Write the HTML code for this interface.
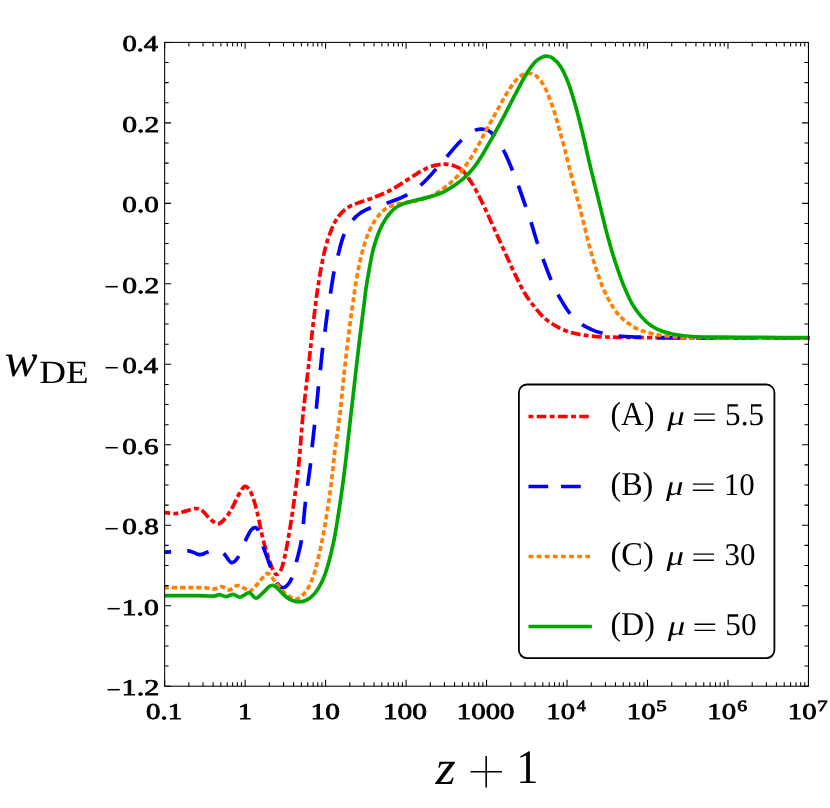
<!DOCTYPE html>
<html><head><meta charset="utf-8"><title>w_DE vs z+1</title>
<style>html,body{margin:0;padding:0;background:#fff}body{width:830px;height:808px;overflow:hidden}svg{display:block}text{font-family:"Liberation Serif",serif;fill:#000;text-rendering:geometricPrecision}.b{font-weight:normal;stroke:#000;stroke-width:0.75px;stroke-linejoin:round}.i{font-style:italic}</style></head><body>
<svg width="830" height="808" viewBox="0 0 830 808" style="will-change:transform">
<rect x="0" y="0" width="830" height="808" fill="#fff"/>
<defs><clipPath id="cp"><rect x="164.15" y="41.90" width="645.80" height="644.80"/></clipPath></defs>
<g fill="none" stroke-width="3.70" stroke-linejoin="round" clip-path="url(#cp)">
<path d="M160.00 512.30 C160.82 512.33 162.32 512.30 164.95 512.50 C167.58 512.70 172.34 513.73 175.80 513.50 C179.26 513.27 182.40 511.93 185.70 511.10 C189.00 510.27 192.78 508.50 195.60 508.50 C198.42 508.50 200.28 509.45 202.60 511.10 C204.92 512.75 207.03 516.28 209.50 518.40 C211.97 520.52 215.08 523.47 217.40 523.80 C219.72 524.13 221.08 522.78 223.40 520.40 C225.72 518.02 228.67 513.95 231.30 509.50 C233.93 505.05 236.90 497.57 239.20 493.70 C241.50 489.83 243.12 486.47 245.10 486.30 C247.08 486.13 249.12 488.50 251.10 492.70 C253.08 496.90 255.02 503.75 257.00 511.50 C258.98 519.25 261.02 531.28 263.00 539.20 C264.98 547.12 267.25 553.88 268.90 559.00 C270.55 564.12 271.58 567.32 272.90 569.90 C274.22 572.48 275.32 574.83 276.80 574.50 C278.28 574.17 280.15 572.47 281.80 567.90 C283.45 563.33 285.05 555.52 286.70 547.10 C288.35 538.68 290.22 526.97 291.70 517.40 C293.18 507.83 294.33 499.43 295.60 489.70 C296.87 479.97 298.13 470.82 299.30 459.00 C300.47 447.18 301.50 430.45 302.60 418.80 C303.70 407.15 304.75 399.33 305.90 389.10 C307.05 378.87 308.40 367.30 309.50 357.40 C310.60 347.50 311.50 338.43 312.50 329.70 C313.50 320.97 314.63 311.85 315.50 305.00 C316.37 298.15 316.73 294.97 317.70 288.60 C318.67 282.23 319.98 273.73 321.30 266.80 C322.62 259.87 323.88 253.27 325.60 247.00 C327.32 240.73 329.45 234.32 331.60 229.20 C333.75 224.08 335.87 219.87 338.50 216.30 C341.13 212.73 343.93 210.10 347.40 207.80 C350.87 205.50 354.68 204.28 359.30 202.50 C363.92 200.72 370.15 199.02 375.10 197.10 C380.05 195.18 384.37 193.40 389.00 191.00 C393.63 188.60 398.28 185.57 402.90 182.70 C407.52 179.83 412.42 176.35 416.70 173.80 C420.98 171.25 425.07 168.90 428.60 167.40 C432.13 165.90 435.18 165.33 437.90 164.80 C440.62 164.27 442.25 164.05 444.90 164.20 C447.55 164.35 451.00 164.78 453.80 165.70 C456.60 166.62 459.20 167.55 461.70 169.70 C464.20 171.85 466.47 175.27 468.80 178.60 C471.13 181.93 473.05 184.83 475.70 189.70 C478.35 194.57 481.55 201.15 484.70 207.80 C487.85 214.45 491.30 222.33 494.60 229.60 C497.90 236.87 501.18 244.13 504.50 251.40 C507.82 258.67 511.15 266.27 514.50 273.20 C517.85 280.13 521.15 287.23 524.60 293.00 C528.05 298.77 531.78 303.52 535.20 307.80 C538.62 312.08 541.47 315.57 545.10 318.70 C548.73 321.83 552.70 324.28 557.00 326.60 C561.30 328.92 565.95 331.12 570.90 332.60 C575.85 334.08 581.42 334.78 586.70 335.50 C591.98 336.22 597.32 336.60 602.60 336.90 C607.88 337.20 609.95 337.17 618.40 337.30 C626.85 337.43 639.70 337.60 653.30 337.70 C666.90 337.80 682.22 337.87 700.00 337.90 C717.78 337.93 741.33 337.90 760.00 337.90 C778.67 337.90 803.33 337.90 812.00 337.90" stroke="#ff0000" stroke-dasharray="5.0 3.15 9.92 3.15" stroke-dashoffset="7.9"/>
<path d="M160.00 552.10 C160.82 552.10 161.65 552.17 164.95 552.10 C168.25 552.03 175.68 551.87 179.80 551.70 C183.93 551.53 186.40 550.60 189.70 551.10 C193.00 551.60 196.63 554.53 199.60 554.70 C202.57 554.87 204.93 552.88 207.50 552.10 C210.07 551.32 212.35 549.83 215.00 550.00 C217.65 550.17 220.68 551.00 223.40 553.10 C226.12 555.20 228.83 561.95 231.30 562.60 C233.77 563.25 235.90 560.57 238.20 557.00 C240.50 553.43 242.95 545.70 245.10 541.20 C247.25 536.70 249.45 532.27 251.10 530.00 C252.75 527.73 253.85 527.60 255.00 527.60 C256.15 527.60 256.67 526.92 258.00 530.00 C259.33 533.08 261.50 541.60 263.00 546.10 C264.50 550.60 265.68 553.37 267.00 557.00 C268.32 560.63 269.27 563.60 270.90 567.90 C272.53 572.20 274.82 579.50 276.80 582.80 C278.78 586.10 280.98 587.37 282.80 587.70 C284.62 588.03 286.22 586.38 287.70 584.80 C289.18 583.22 290.22 582.17 291.70 578.20 C293.18 574.23 294.95 567.50 296.60 561.00 C298.25 554.50 300.12 549.10 301.60 539.20 C303.08 529.30 304.02 514.13 305.50 501.60 C306.98 489.07 309.40 473.12 310.50 464.00 C311.60 454.88 311.43 453.28 312.10 446.90 C312.77 440.52 313.78 432.20 314.50 425.70 C315.22 419.20 315.75 414.33 316.40 407.90 C317.05 401.47 317.73 393.47 318.40 387.10 C319.07 380.73 319.70 376.13 320.40 369.70 C321.10 363.27 321.83 354.90 322.60 348.50 C323.37 342.10 324.15 337.73 325.00 331.30 C325.85 324.87 326.77 316.35 327.70 309.90 C328.63 303.45 329.55 298.95 330.60 292.60 C331.65 286.25 332.75 278.07 334.00 271.80 C335.25 265.53 336.45 261.12 338.10 255.00 C339.75 248.88 341.35 241.05 343.90 235.10 C346.45 229.15 350.50 223.08 353.40 219.30 C356.30 215.52 358.50 214.28 361.30 212.40 C364.10 210.52 365.92 209.55 370.20 208.00 C374.48 206.45 381.22 205.12 387.00 203.10 C392.78 201.08 399.28 198.88 404.90 195.90 C410.52 192.92 415.60 189.55 420.70 185.20 C425.80 180.85 431.15 174.53 435.50 169.80 C439.85 165.07 442.60 161.60 446.80 156.80 C451.00 152.00 456.07 145.35 460.70 141.00 C465.33 136.65 471.13 132.68 474.60 130.70 C478.07 128.72 479.20 129.10 481.50 129.10 C483.80 129.10 486.42 129.72 488.40 130.70 C490.38 131.68 490.92 131.80 493.40 135.00 C495.88 138.20 500.17 144.12 503.30 149.90 C506.43 155.68 509.55 163.35 512.20 169.70 C514.85 176.05 517.02 182.05 519.20 188.00 C521.38 193.95 523.35 199.78 525.30 205.40 C527.25 211.02 528.92 215.52 530.90 221.70 C532.88 227.88 535.15 236.23 537.20 242.50 C539.25 248.77 540.95 253.20 543.20 259.30 C545.45 265.40 548.23 273.22 550.70 279.10 C553.17 284.98 554.87 288.98 558.00 294.60 C561.13 300.22 565.53 307.85 569.50 312.80 C573.47 317.75 578.10 321.50 581.80 324.30 C585.50 327.10 588.40 328.15 591.70 329.60 C595.00 331.05 597.15 331.93 601.60 333.00 C606.05 334.07 612.03 335.30 618.40 336.00 C624.77 336.70 633.35 336.93 639.80 337.20 C646.25 337.47 647.07 337.48 657.10 337.60 C667.13 337.72 682.85 337.85 700.00 337.90 C717.15 337.95 741.33 337.90 760.00 337.90 C778.67 337.90 803.33 337.90 812.00 337.90" stroke="#0000ff" stroke-dasharray="22.5 16.2" stroke-dashoffset="11.4"/>
<path d="M160.00 587.70 C160.82 587.70 159.95 587.70 164.90 587.70 C169.85 587.70 183.85 587.70 189.70 587.70 C195.55 587.70 197.08 587.65 200.00 587.70 C202.92 587.75 204.78 587.80 207.20 588.00 C209.62 588.20 212.08 589.12 214.50 588.90 C216.92 588.68 219.20 586.53 221.70 586.70 C224.20 586.87 226.90 590.10 229.50 589.90 C232.10 589.70 234.78 585.77 237.30 585.50 C239.82 585.23 242.58 587.28 244.60 588.30 C246.62 589.32 247.80 591.70 249.40 591.60 C251.00 591.50 252.40 589.55 254.20 587.70 C256.00 585.85 258.28 582.70 260.20 580.50 C262.12 578.30 264.38 575.67 265.70 574.50 C267.02 573.33 267.20 573.20 268.10 573.50 C269.00 573.80 270.00 575.03 271.10 576.30 C272.20 577.57 273.50 579.50 274.70 581.10 C275.90 582.70 276.70 584.00 278.30 585.90 C279.90 587.80 282.27 590.62 284.30 592.50 C286.33 594.38 288.55 596.07 290.50 597.20 C292.45 598.33 294.10 599.53 296.00 599.30 C297.90 599.07 299.92 597.62 301.90 595.80 C303.88 593.98 306.17 591.23 307.90 588.40 C309.63 585.57 311.07 581.90 312.30 578.80 C313.53 575.70 314.30 573.28 315.30 569.80 C316.30 566.32 317.30 562.10 318.30 557.90 C319.30 553.70 320.42 548.80 321.30 544.60 C322.18 540.40 322.83 536.92 323.60 532.70 C324.37 528.48 325.18 523.55 325.90 519.30 C326.62 515.05 327.28 511.13 327.90 507.20 C328.52 503.27 329.07 499.48 329.60 495.70 C330.13 491.92 330.63 488.22 331.10 484.50 C331.57 480.78 331.98 477.10 332.40 473.40 C332.82 469.70 333.20 466.02 333.60 462.30 C334.00 458.58 334.32 454.90 334.80 451.10 C335.28 447.30 335.62 445.87 336.50 439.50 C337.38 433.13 339.00 422.28 340.10 412.90 C341.20 403.52 342.05 393.10 343.10 383.20 C344.15 373.30 345.25 363.40 346.40 353.50 C347.55 343.60 348.95 331.88 350.00 323.80 C351.05 315.72 351.82 311.20 352.70 305.00 C353.58 298.80 354.22 293.28 355.30 286.60 C356.38 279.92 357.72 271.83 359.20 264.90 C360.68 257.97 362.38 250.95 364.20 245.00 C366.02 239.05 367.80 233.98 370.10 229.20 C372.40 224.42 375.18 219.83 378.00 216.30 C380.82 212.77 383.52 210.07 387.00 208.00 C390.48 205.93 394.27 205.05 398.90 203.90 C403.53 202.75 409.85 202.23 414.80 201.10 C419.75 199.97 425.08 198.37 428.60 197.10 C432.12 195.83 432.20 195.92 435.90 193.50 C439.60 191.08 446.20 186.73 450.80 182.60 C455.40 178.47 459.33 174.15 463.50 168.70 C467.67 163.25 472.10 156.17 475.80 149.90 C479.50 143.63 482.40 137.20 485.70 131.10 C489.00 125.00 492.38 119.08 495.60 113.30 C498.82 107.52 501.93 101.52 505.00 96.40 C508.07 91.28 511.32 86.07 514.00 82.60 C516.68 79.13 518.60 77.15 521.10 75.60 C523.60 74.05 526.37 73.13 529.00 73.30 C531.63 73.47 534.25 74.23 536.90 76.60 C539.55 78.97 542.25 82.38 544.90 87.50 C547.55 92.62 550.50 100.70 552.80 107.30 C555.10 113.90 556.72 120.17 558.70 127.10 C560.68 134.03 562.72 141.30 564.70 148.90 C566.68 156.50 568.75 165.35 570.60 172.70 C572.45 180.05 574.27 187.15 575.80 193.00 C577.33 198.85 578.30 202.03 579.80 207.80 C581.30 213.57 583.15 221.00 584.80 227.60 C586.45 234.20 587.90 240.80 589.70 247.40 C591.50 254.00 593.45 260.60 595.60 267.20 C597.75 273.80 600.12 281.05 602.60 287.00 C605.08 292.95 607.93 298.40 610.50 302.90 C613.07 307.40 615.37 310.83 618.00 314.00 C620.63 317.17 623.00 319.38 626.30 321.90 C629.60 324.42 633.63 327.17 637.80 329.10 C641.97 331.03 646.48 332.35 651.30 333.50 C656.12 334.65 660.92 335.35 666.70 336.00 C672.48 336.65 677.12 337.10 686.00 337.40 C694.88 337.70 707.67 337.72 720.00 337.80 C732.33 337.88 744.67 337.88 760.00 337.90 C775.33 337.92 803.33 337.90 812.00 337.90" stroke="#ff8000" stroke-dasharray="5.2 2.9" stroke-dashoffset="4.3"/>
<path d="M160.00 595.60 C160.82 595.60 158.30 595.60 164.90 595.60 C171.50 595.60 191.50 595.50 199.60 595.60 C207.70 595.70 210.20 596.35 213.50 596.20 C216.80 596.05 217.27 594.63 219.40 594.70 C221.53 594.77 223.98 596.67 226.30 596.60 C228.62 596.53 230.98 594.20 233.30 594.30 C235.62 594.40 237.57 597.47 240.20 597.20 C242.83 596.93 246.47 592.53 249.10 592.70 C251.73 592.87 253.68 598.20 256.00 598.20 C258.32 598.20 260.85 594.62 263.00 592.70 C265.15 590.78 267.25 587.93 268.90 586.70 C270.55 585.47 271.58 585.13 272.90 585.30 C274.22 585.47 275.05 586.18 276.80 587.70 C278.55 589.22 281.07 592.37 283.40 594.40 C285.73 596.43 288.20 598.65 290.80 599.90 C293.40 601.15 296.28 601.90 299.00 601.90 C301.72 601.90 304.50 601.28 307.10 599.90 C309.70 598.52 312.37 596.13 314.60 593.60 C316.83 591.07 318.77 587.92 320.50 584.70 C322.23 581.48 323.63 578.02 325.00 574.30 C326.37 570.58 327.58 566.37 328.70 562.40 C329.82 558.43 330.77 554.47 331.70 550.50 C332.63 546.53 333.52 542.57 334.30 538.60 C335.08 534.63 335.73 530.65 336.40 526.70 C337.07 522.75 337.68 518.85 338.30 514.90 C338.92 510.95 339.53 506.82 340.10 503.00 C340.67 499.18 341.18 495.67 341.70 492.00 C342.22 488.33 342.72 484.67 343.20 481.00 C343.68 477.33 344.15 473.60 344.60 470.00 C345.05 466.40 345.37 463.97 345.90 459.40 C346.43 454.83 347.08 449.03 347.80 442.60 C348.52 436.17 349.30 428.73 350.20 420.80 C351.10 412.87 352.22 403.58 353.20 395.00 C354.18 386.42 355.12 377.87 356.10 369.30 C357.08 360.73 358.10 351.85 359.10 343.60 C360.10 335.35 361.27 326.40 362.10 319.80 C362.93 313.20 363.45 309.20 364.10 304.00 C364.75 298.80 365.13 294.47 366.00 288.60 C366.87 282.73 368.08 275.40 369.30 268.80 C370.52 262.20 371.65 255.27 373.30 249.00 C374.95 242.73 377.07 236.32 379.20 231.20 C381.33 226.08 383.70 221.93 386.10 218.30 C388.50 214.67 390.80 211.80 393.60 209.40 C396.40 207.00 399.37 205.38 402.90 203.90 C406.43 202.42 410.52 201.63 414.80 200.50 C419.08 199.37 424.08 198.40 428.60 197.10 C433.12 195.80 438.33 194.18 441.90 192.70 C445.47 191.22 447.57 189.67 450.00 188.20 C452.43 186.73 454.32 185.45 456.50 183.90 C458.68 182.35 460.97 180.77 463.10 178.90 C465.23 177.03 467.23 174.97 469.30 172.70 C471.37 170.43 473.43 168.08 475.50 165.30 C477.57 162.52 479.65 159.30 481.70 156.00 C483.75 152.70 485.85 148.90 487.80 145.50 C489.75 142.10 490.78 140.32 493.40 135.60 C496.02 130.88 499.95 123.90 503.50 117.20 C507.05 110.50 510.97 102.48 514.70 95.40 C518.43 88.32 522.45 80.30 525.90 74.70 C529.35 69.10 532.57 64.78 535.40 61.80 C538.23 58.82 541.00 57.73 542.90 56.80 C544.80 55.87 545.15 55.97 546.80 56.20 C548.45 56.43 550.48 56.45 552.80 58.20 C555.12 59.95 558.07 62.47 560.70 66.70 C563.33 70.93 565.97 76.50 568.60 83.60 C571.23 90.70 574.02 100.40 576.50 109.30 C578.98 118.20 581.27 127.75 583.50 137.00 C585.73 146.25 587.80 155.97 589.90 164.80 C592.00 173.63 594.25 182.50 596.10 190.00 C597.95 197.50 599.37 203.20 601.00 209.80 C602.63 216.40 604.33 223.57 605.90 229.60 C607.47 235.63 608.88 240.73 610.40 246.00 C611.92 251.27 613.00 255.13 615.00 261.20 C617.00 267.27 619.57 275.33 622.40 282.40 C625.23 289.47 628.78 297.82 632.00 303.60 C635.22 309.38 638.48 313.40 641.70 317.10 C644.92 320.80 647.77 323.38 651.30 325.80 C654.83 328.22 658.72 330.10 662.90 331.60 C667.08 333.10 671.58 333.98 676.40 334.80 C681.22 335.62 685.38 336.12 691.80 336.50 C698.22 336.88 706.87 336.97 714.90 337.10 C722.93 337.23 729.15 337.22 740.00 337.30 C750.85 337.38 768.00 337.53 780.00 337.60 C792.00 337.67 806.67 337.68 812.00 337.70" stroke="#00a600"/>
</g>
<g stroke="#000" stroke-width="1.05" fill="none">
<rect x="164.65" y="42.40" width="643.80" height="643.80"/>
<path d="M164.65 686.20 v-6.40 M164.65 42.40 v6.40 M188.88 686.20 v-4.00 M188.88 42.40 v4.00 M203.05 686.20 v-4.00 M203.05 42.40 v4.00 M213.10 686.20 v-4.00 M213.10 42.40 v4.00 M220.90 686.20 v-4.00 M220.90 42.40 v4.00 M227.27 686.20 v-4.00 M227.27 42.40 v4.00 M232.66 686.20 v-4.00 M232.66 42.40 v4.00 M237.33 686.20 v-4.00 M237.33 42.40 v4.00 M241.44 686.20 v-4.00 M241.44 42.40 v4.00 M245.12 686.20 v-6.40 M245.12 42.40 v6.40 M269.35 686.20 v-4.00 M269.35 42.40 v4.00 M283.52 686.20 v-4.00 M283.52 42.40 v4.00 M293.58 686.20 v-4.00 M293.58 42.40 v4.00 M301.37 686.20 v-4.00 M301.37 42.40 v4.00 M307.75 686.20 v-4.00 M307.75 42.40 v4.00 M313.13 686.20 v-4.00 M313.13 42.40 v4.00 M317.80 686.20 v-4.00 M317.80 42.40 v4.00 M321.92 686.20 v-4.00 M321.92 42.40 v4.00 M325.60 686.20 v-6.40 M325.60 42.40 v6.40 M349.83 686.20 v-4.00 M349.83 42.40 v4.00 M364.00 686.20 v-4.00 M364.00 42.40 v4.00 M374.05 686.20 v-4.00 M374.05 42.40 v4.00 M381.85 686.20 v-4.00 M381.85 42.40 v4.00 M388.22 686.20 v-4.00 M388.22 42.40 v4.00 M393.61 686.20 v-4.00 M393.61 42.40 v4.00 M398.28 686.20 v-4.00 M398.28 42.40 v4.00 M402.39 686.20 v-4.00 M402.39 42.40 v4.00 M406.08 686.20 v-6.40 M406.08 42.40 v6.40 M430.30 686.20 v-4.00 M430.30 42.40 v4.00 M444.47 686.20 v-4.00 M444.47 42.40 v4.00 M454.53 686.20 v-4.00 M454.53 42.40 v4.00 M462.32 686.20 v-4.00 M462.32 42.40 v4.00 M468.70 686.20 v-4.00 M468.70 42.40 v4.00 M474.08 686.20 v-4.00 M474.08 42.40 v4.00 M478.75 686.20 v-4.00 M478.75 42.40 v4.00 M482.87 686.20 v-4.00 M482.87 42.40 v4.00 M486.55 686.20 v-6.40 M486.55 42.40 v6.40 M510.78 686.20 v-4.00 M510.78 42.40 v4.00 M524.95 686.20 v-4.00 M524.95 42.40 v4.00 M535.00 686.20 v-4.00 M535.00 42.40 v4.00 M542.80 686.20 v-4.00 M542.80 42.40 v4.00 M549.17 686.20 v-4.00 M549.17 42.40 v4.00 M554.56 686.20 v-4.00 M554.56 42.40 v4.00 M559.23 686.20 v-4.00 M559.23 42.40 v4.00 M563.34 686.20 v-4.00 M563.34 42.40 v4.00 M567.03 686.20 v-6.40 M567.03 42.40 v6.40 M591.25 686.20 v-4.00 M591.25 42.40 v4.00 M605.42 686.20 v-4.00 M605.42 42.40 v4.00 M615.48 686.20 v-4.00 M615.48 42.40 v4.00 M623.27 686.20 v-4.00 M623.27 42.40 v4.00 M629.65 686.20 v-4.00 M629.65 42.40 v4.00 M635.03 686.20 v-4.00 M635.03 42.40 v4.00 M639.70 686.20 v-4.00 M639.70 42.40 v4.00 M643.82 686.20 v-4.00 M643.82 42.40 v4.00 M647.50 686.20 v-6.40 M647.50 42.40 v6.40 M671.73 686.20 v-4.00 M671.73 42.40 v4.00 M685.90 686.20 v-4.00 M685.90 42.40 v4.00 M695.95 686.20 v-4.00 M695.95 42.40 v4.00 M703.75 686.20 v-4.00 M703.75 42.40 v4.00 M710.12 686.20 v-4.00 M710.12 42.40 v4.00 M715.51 686.20 v-4.00 M715.51 42.40 v4.00 M720.18 686.20 v-4.00 M720.18 42.40 v4.00 M724.29 686.20 v-4.00 M724.29 42.40 v4.00 M727.98 686.20 v-6.40 M727.98 42.40 v6.40 M752.20 686.20 v-4.00 M752.20 42.40 v4.00 M766.37 686.20 v-4.00 M766.37 42.40 v4.00 M776.43 686.20 v-4.00 M776.43 42.40 v4.00 M784.22 686.20 v-4.00 M784.22 42.40 v4.00 M790.60 686.20 v-4.00 M790.60 42.40 v4.00 M795.98 686.20 v-4.00 M795.98 42.40 v4.00 M800.65 686.20 v-4.00 M800.65 42.40 v4.00 M804.77 686.20 v-4.00 M804.77 42.40 v4.00 M808.45 686.20 v-6.40 M808.45 42.40 v6.40 M164.65 42.40 h6.40 M808.45 42.40 h-6.40 M164.65 62.52 h4.00 M808.45 62.52 h-4.00 M164.65 82.64 h4.00 M808.45 82.64 h-4.00 M164.65 102.76 h4.00 M808.45 102.76 h-4.00 M164.65 122.88 h6.40 M808.45 122.88 h-6.40 M164.65 142.99 h4.00 M808.45 142.99 h-4.00 M164.65 163.11 h4.00 M808.45 163.11 h-4.00 M164.65 183.23 h4.00 M808.45 183.23 h-4.00 M164.65 203.35 h6.40 M808.45 203.35 h-6.40 M164.65 223.47 h4.00 M808.45 223.47 h-4.00 M164.65 243.59 h4.00 M808.45 243.59 h-4.00 M164.65 263.71 h4.00 M808.45 263.71 h-4.00 M164.65 283.83 h6.40 M808.45 283.83 h-6.40 M164.65 303.94 h4.00 M808.45 303.94 h-4.00 M164.65 324.06 h4.00 M808.45 324.06 h-4.00 M164.65 344.18 h4.00 M808.45 344.18 h-4.00 M164.65 364.30 h6.40 M808.45 364.30 h-6.40 M164.65 384.42 h4.00 M808.45 384.42 h-4.00 M164.65 404.54 h4.00 M808.45 404.54 h-4.00 M164.65 424.66 h4.00 M808.45 424.66 h-4.00 M164.65 444.77 h6.40 M808.45 444.77 h-6.40 M164.65 464.89 h4.00 M808.45 464.89 h-4.00 M164.65 485.01 h4.00 M808.45 485.01 h-4.00 M164.65 505.13 h4.00 M808.45 505.13 h-4.00 M164.65 525.25 h6.40 M808.45 525.25 h-6.40 M164.65 545.37 h4.00 M808.45 545.37 h-4.00 M164.65 565.49 h4.00 M808.45 565.49 h-4.00 M164.65 585.61 h4.00 M808.45 585.61 h-4.00 M164.65 605.73 h6.40 M808.45 605.73 h-6.40 M164.65 625.84 h4.00 M808.45 625.84 h-4.00 M164.65 645.96 h4.00 M808.45 645.96 h-4.00 M164.65 666.08 h4.00 M808.45 666.08 h-4.00 M164.65 686.20 h6.40 M808.45 686.20 h-6.40"/>
</g>
<text x="122.41" y="51.20" font-size="22.60" class="b" textLength="35.65" lengthAdjust="spacingAndGlyphs">0.4</text>
<text x="122.37" y="131.68" font-size="22.60" class="b" textLength="36.88" lengthAdjust="spacingAndGlyphs">0.2</text>
<text x="122.39" y="212.15" font-size="22.60" class="b" textLength="36.33" lengthAdjust="spacingAndGlyphs">0.0</text>
<text x="122.37" y="292.63" font-size="22.60" class="b" textLength="36.88" lengthAdjust="spacingAndGlyphs">0.2</text>
<text x="104.29" y="297.33" font-size="31.00" textLength="14.80" lengthAdjust="spacingAndGlyphs">−</text>
<text x="122.41" y="373.10" font-size="22.60" class="b" textLength="35.65" lengthAdjust="spacingAndGlyphs">0.4</text>
<text x="104.29" y="377.81" font-size="31.00" textLength="14.80" lengthAdjust="spacingAndGlyphs">−</text>
<text x="122.39" y="453.57" font-size="22.60" class="b" textLength="36.10" lengthAdjust="spacingAndGlyphs">0.6</text>
<text x="104.29" y="458.28" font-size="31.00" textLength="14.80" lengthAdjust="spacingAndGlyphs">−</text>
<text x="122.39" y="534.05" font-size="22.60" class="b" textLength="36.33" lengthAdjust="spacingAndGlyphs">0.8</text>
<text x="104.29" y="538.76" font-size="31.00" textLength="14.80" lengthAdjust="spacingAndGlyphs">−</text>
<text x="121.68" y="614.52" font-size="22.60" class="b" textLength="37.06" lengthAdjust="spacingAndGlyphs">1.0</text>
<text x="106.19" y="619.23" font-size="31.00" textLength="14.80" lengthAdjust="spacingAndGlyphs">−</text>
<text x="121.64" y="695.00" font-size="22.60" class="b" textLength="37.64" lengthAdjust="spacingAndGlyphs">1.2</text>
<text x="106.19" y="699.71" font-size="31.00" textLength="14.80" lengthAdjust="spacingAndGlyphs">−</text>
<text x="146.09" y="718.90" font-size="22.60" class="b" textLength="36.17" lengthAdjust="spacingAndGlyphs">0.1</text>
<text x="238.03" y="718.90" font-size="22.60" class="b" textLength="13.97" lengthAdjust="spacingAndGlyphs">1</text>
<text x="310.61" y="718.90" font-size="22.60" class="b" textLength="29.31" lengthAdjust="spacingAndGlyphs">10</text>
<text x="382.90" y="718.90" font-size="22.60" class="b" textLength="44.13" lengthAdjust="spacingAndGlyphs">100</text>
<text x="456.85" y="718.90" font-size="22.60" class="b" textLength="57.65" lengthAdjust="spacingAndGlyphs">1000</text>
<text x="546.39" y="718.90" font-size="22.60" class="b" textLength="28.74" lengthAdjust="spacingAndGlyphs">10</text>
<text x="576.74" y="710.90" font-size="15.60" class="b" textLength="9.09" lengthAdjust="spacingAndGlyphs">4</text>
<text x="626.86" y="718.90" font-size="22.60" class="b" textLength="28.74" lengthAdjust="spacingAndGlyphs">10</text>
<text x="656.37" y="710.90" font-size="15.60" class="b" textLength="10.50" lengthAdjust="spacingAndGlyphs">5</text>
<text x="707.34" y="718.90" font-size="22.60" class="b" textLength="28.74" lengthAdjust="spacingAndGlyphs">10</text>
<text x="737.21" y="710.90" font-size="15.60" class="b" textLength="9.88" lengthAdjust="spacingAndGlyphs">6</text>
<text x="787.81" y="718.90" font-size="22.60" class="b" textLength="28.74" lengthAdjust="spacingAndGlyphs">10</text>
<text x="817.17" y="710.90" font-size="15.60" class="b" textLength="10.43" lengthAdjust="spacingAndGlyphs">7</text>
<text x="4.87" y="375.93" font-size="46.60" class="i" textLength="32.77" lengthAdjust="spacingAndGlyphs">w</text>
<text x="39.19" y="383.22" font-size="32.40" textLength="49.38" lengthAdjust="spacingAndGlyphs">DE</text>
<text x="435.52" y="783.90" font-size="48.26" class="i" textLength="20.22" lengthAdjust="spacingAndGlyphs">z</text>
<path d="M470.5 771.7 H501.9 M486.2 756 V787.5" stroke="#000" stroke-width="1.6" fill="none"/>
<text x="516.30" y="783.30" font-size="48.03" textLength="22.27" lengthAdjust="spacingAndGlyphs">1</text>
<rect x="518.9" y="384.5" width="255.5" height="273.6" rx="8" ry="8" fill="#fff" stroke="#000" stroke-width="1.8"/>
<g fill="none" stroke-width="3.5">
<path d="M528.5 416.40 H588.8" stroke="#ff0000" stroke-dasharray="4.8 3.4 9.7 3.4"/>
<path d="M528.5 486.40 H580.7" stroke="#0000ff" stroke-dasharray="19.7 12.8"/>
<path d="M528.5 556.40 H590.5" stroke="#ff8000" stroke-dasharray="4.8 3.32"/>
<path d="M528.5 626.50 H591.9" stroke="#00a600"/>
</g>
<text x="610.47" y="424.85" font-size="33.40" textLength="44.00" lengthAdjust="spacingAndGlyphs">(A)</text>
<text x="667.30" y="424.78" font-size="28.00" class="i" textLength="17.50" lengthAdjust="spacingAndGlyphs">μ</text>
<path d="M694.10 414.10 h20.7 M694.10 420.30 h20.7" stroke="#000" stroke-width="1.4" fill="none"/>
<text x="725.11" y="425.12" font-size="31.79" textLength="38.94" lengthAdjust="spacingAndGlyphs">5.5</text>
<text x="610.45" y="494.85" font-size="33.40" textLength="42.83" lengthAdjust="spacingAndGlyphs">(B)</text>
<text x="666.10" y="494.78" font-size="28.00" class="i" textLength="17.50" lengthAdjust="spacingAndGlyphs">μ</text>
<path d="M692.90 484.10 h20.7 M692.90 490.30 h20.7" stroke="#000" stroke-width="1.4" fill="none"/>
<text x="723.80" y="495.28" font-size="31.56" textLength="30.86" lengthAdjust="spacingAndGlyphs">10</text>
<text x="610.44" y="564.85" font-size="33.40" textLength="43.26" lengthAdjust="spacingAndGlyphs">(C)</text>
<text x="666.50" y="564.78" font-size="28.00" class="i" textLength="17.50" lengthAdjust="spacingAndGlyphs">μ</text>
<path d="M693.30 554.10 h20.7 M693.30 560.30 h20.7" stroke="#000" stroke-width="1.4" fill="none"/>
<text x="724.43" y="565.28" font-size="31.56" textLength="30.93" lengthAdjust="spacingAndGlyphs">30</text>
<text x="610.46" y="634.95" font-size="33.40" textLength="44.42" lengthAdjust="spacingAndGlyphs">(D)</text>
<text x="667.70" y="634.88" font-size="28.00" class="i" textLength="17.50" lengthAdjust="spacingAndGlyphs">μ</text>
<path d="M694.50 624.20 h20.7 M694.50 630.40 h20.7" stroke="#000" stroke-width="1.4" fill="none"/>
<text x="725.30" y="635.38" font-size="31.56" textLength="31.27" lengthAdjust="spacingAndGlyphs">50</text>
</svg></body></html>
